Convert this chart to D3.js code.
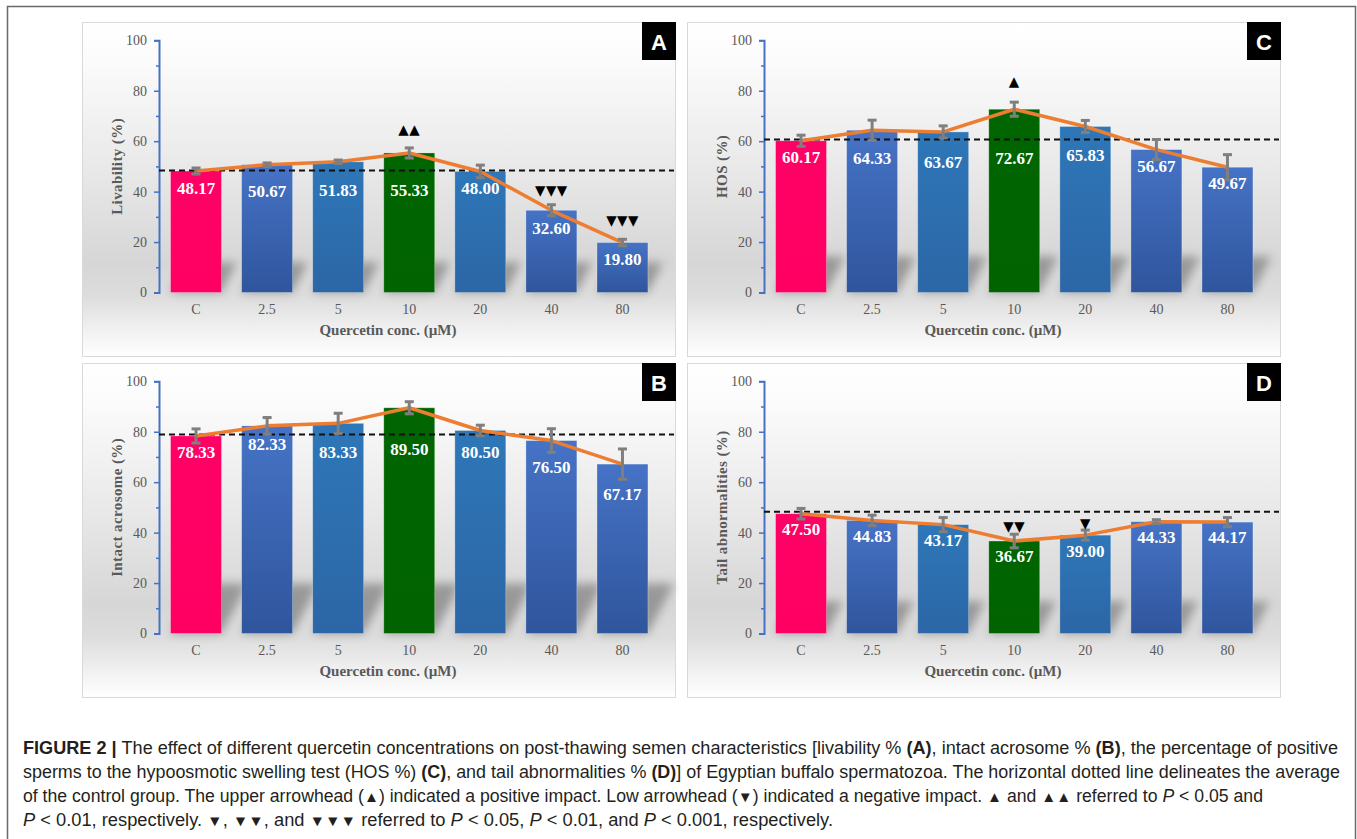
<!DOCTYPE html>
<html>
<head>
<meta charset="utf-8">
<script src="https://cdn.jsdelivr.net/npm/d3@7"></script>
<style>
  html, body { margin: 0; padding: 0; background: #ffffff; }
  svg { display: block; }
</style>
</head>
<body>
<div id="chart"></div>
<script>
// ---------------- DATA ----------------
const categories = ["C", "2.5", "5", "10", "20", "40", "80"];
const yTicks = [0, 20, 40, 60, 80, 100];
const xTitle = "Quercetin conc. (µM)";

// Panel A: Livability
const livability   = [48.17, 50.67, 51.83, 55.33, 48.00, 32.60, 19.80];
const livErr       = [1.2, 0.7, 0.7, 2.0, 2.5, 2.2, 1.3];
const livRef       = 48.4;
const livLabelAt   = [41.6, 40.3, 40.8, 40.8, 41.5, 25.7, 13.2];
const livSig       = ["", "", "", "▲▲", "", "▼▼▼", "▼▼▼"];
const livSigAt     = [null, null, null, 64.7, null, 40.6, 28.6];

// Panel B: Intact acrosome
const acrosome     = [78.33, 82.33, 83.33, 89.50, 80.50, 76.50, 67.17];
const acrErr       = [2.8, 3.3, 4.0, 2.4, 2.1, 4.7, 6.0];
const acrRef       = 78.9;
const acrLabelAt   = [72.1, 75.1, 72.1, 73.0, 71.8, 65.9, 55.3];
const acrSig       = ["", "", "", "", "", "", ""];
const acrSigAt     = [null, null, null, null, null, null, null];

// Panel C: HOS
const hos          = [60.17, 64.33, 63.67, 72.67, 65.83, 56.67, 49.67];
const hosErr       = [2.2, 4.0, 2.4, 2.8, 2.4, 4.0, 5.0];
const hosRef       = 60.7;
const hosLabelAt   = [53.8, 53.2, 51.8, 53.4, 54.5, 50.2, 43.5];
const hosSig       = ["", "", "", "▲", "", "", ""];
const hosSigAt     = [null, null, null, 83.6, null, null, null];

// Panel D: Tail abnormalities
const tail         = [47.50, 44.83, 43.17, 36.67, 39.00, 44.33, 44.17];
const tailErr      = [2.1, 2.1, 2.8, 2.7, 2.0, 0.8, 1.8];
const tailRef      = 48.3;
const tailLabelAt  = [41.4, 38.7, 36.9, 30.6, 32.8, 38.3, 38.1];
const tailSig      = ["", "", "", "▼▼", "▼", "", ""];
const tailSigAt    = [null, null, null, 42.4, 43.7, null, null];

const captionLines = [
  [["b","FIGURE 2 | "],["n","The effect of different quercetin concentrations on post-thawing semen characteristics [livability % "],["b","(A)"],["n",", intact acrosome % "],["b","(B)"],["n",", the percentage of positive"]],
  [["n","sperms to the hypoosmotic swelling test (HOS %) "],["b","(C)"],["n",", and tail abnormalities % "],["b","(D)"],["n","] of Egyptian buffalo spermatozoa. The horizontal dotted line delineates the average"]],
  [["n","of the control group. The upper arrowhead ("],["t","▲"],["n",") indicated a positive impact. Low arrowhead ("],["t","▼"],["n",") indicated a negative impact. "],["t","▲"],["n"," and "],["t","▲▲"],["n"," referred to "],["i","P"],["n"," < 0.05 and"]],
  [["i","P"],["n"," < 0.01, respectively. "],["t","▼"],["n",", "],["t","▼▼"],["n",", and "],["t","▼▼▼"],["n"," referred to "],["i","P"],["n"," < 0.05, "],["i","P"],["n"," < 0.01, and "],["i","P"],["n"," < 0.001, respectively."]]
];

// ---------------- LAYOUT / STYLE ----------------
const W = 1357, H = 839;
const PW = 594, PH = 335;
const serif = "'Liberation Serif', 'Times New Roman', serif";
const sans = "'Liberation Sans', Arial, Helvetica, sans-serif";
const textGray = "#595959";
const barStyle = ["pink", "blueA", "blueB", "green", "blueB", "blueA", "blueA"];

const panels = [
  { key: "A", x: 82,  y: 22,  title: "Livability (%)",          v: livability, e: livErr,  ref: livRef,  lab: livLabelAt,  sig: livSig,  sigAt: livSigAt,  sh: {h: 30, dx: 15} },
  { key: "B", x: 82,  y: 363, title: "Intact acrosome (%)",     v: acrosome,   e: acrErr,  ref: acrRef,  lab: acrLabelAt,  sig: acrSig,  sigAt: acrSigAt,  sh: {h: 50, dx: 26} },
  { key: "C", x: 687, y: 22,  title: "HOS (%)",                 v: hos,        e: hosErr,  ref: hosRef,  lab: hosLabelAt,  sig: hosSig,  sigAt: hosSigAt,  sh: {h: 36, dx: 18} },
  { key: "D", x: 687, y: 363, title: "Tail abnormalities (%)",  v: tail,       e: tailErr, ref: tailRef, lab: tailLabelAt, sig: tailSig, sigAt: tailSigAt, sh: {h: 32, dx: 16} }
];

const svg = d3.select("#chart").append("svg").attr("width", W).attr("height", H);
const defs = svg.append("defs");

// background gradient
const bg = defs.append("linearGradient").attr("id", "panelBg").attr("x1", 0).attr("y1", 0).attr("x2", 0).attr("y2", 1);
[[0, "#ffffff"], [0.12, "#fbfbfb"], [0.45, "#e8e8e8"], [0.72, "#d6d6d6"], [0.82, "#dddddd"], [0.92, "#f1f1f1"], [1, "#ffffff"]]
  .forEach(([o, c]) => bg.append("stop").attr("offset", o).attr("stop-color", c));

function grad(id, top, bottom) {
  const g = defs.append("linearGradient").attr("id", id).attr("x1", 0).attr("y1", 0).attr("x2", 0).attr("y2", 1);
  g.append("stop").attr("offset", 0).attr("stop-color", top);
  g.append("stop").attr("offset", 1).attr("stop-color", bottom);
}
grad("pink", "#ff0066", "#ff0062");
grad("green", "#006600", "#006300");
grad("blueA", "#4673c6", "#2f559c");
grad("blueB", "#2e77b8", "#2c66a6");

const blur = defs.append("filter").attr("id", "shBlur").attr("x", "-50%").attr("y", "-50%").attr("width", "200%").attr("height", "200%");
blur.append("feGaussianBlur").attr("stdDeviation", 5);

// outer frame
svg.append("path")
  .attr("d", `M7.5,${H + 5} V6.5 H1355.5 V${H + 5}`)
  .attr("fill", "none").attr("stroke", "#6a6a6a").attr("stroke-width", 1.5);

panels.forEach(p => {
  const g = svg.append("g").attr("transform", `translate(${p.x},${p.y})`);
  g.append("rect").attr("x", 0.5).attr("y", 0.5).attr("width", PW - 1).attr("height", PH - 1)
    .attr("fill", "url(#panelBg)").attr("stroke", "#d9d9d9").attr("stroke-width", 1);

  const x = d3.scaleBand().domain(categories).range([78.5, 576]).paddingInner(0.283).paddingOuter(0.1415);
  const y = d3.scaleLinear().domain([0, 100]).range([270.5, 18.3]);
  const bw = x.bandwidth();
  const cx = (d, i) => x(categories[i]) + bw / 2;

  // shadows
  const sg = g.append("g").attr("filter", "url(#shBlur)").attr("opacity", 0.6);
  p.v.forEach((d, i) => {
    const x0 = x(categories[i]), x1 = x0 + bw, y0 = y(0);
    const h = Math.min(p.sh.h, y0 - y(d));
    sg.append("path")
      .attr("d", `M${x0},${y0} L${x1},${y0} L${x1 + p.sh.dx},${y0 - h} L${x0 + p.sh.dx},${y0 - h} Z`)
      .attr("fill", "#6e6e6e");
  });

  // bars
  g.append("g").selectAll("rect").data(p.v).join("rect")
    .attr("x", (d, i) => x(categories[i]))
    .attr("y", d => y(d))
    .attr("width", bw)
    .attr("height", d => y(0) - y(d))
    .attr("fill", (d, i) => `url(#${barStyle[i]})`)
    .attr("stroke", "rgba(255,255,255,0.35)").attr("stroke-width", 0.8);

  // y axis
  const yAxis = d3.axisLeft(y).tickValues(yTicks).tickSize(5).tickSizeOuter(5).tickPadding(7);
  const ya = g.append("g").attr("transform", "translate(77,0)").call(yAxis);
  ya.select(".domain").attr("stroke", "#4472c4").attr("stroke-width", 2);
  ya.selectAll(".tick line").attr("stroke", "#4472c4").attr("stroke-width", 1.5);
  ya.selectAll(".tick text").attr("fill", textGray).attr("font-family", serif).attr("font-size", 14);
  const minor = d3.axisLeft(y).tickValues([10, 30, 50, 70, 90]).tickSize(3).tickFormat("");
  const ym = g.append("g").attr("transform", "translate(77,0)").call(minor);
  ym.select(".domain").remove();
  ym.selectAll(".tick line").attr("stroke", "#4472c4").attr("stroke-width", 1.5);

  // x axis (labels only)
  const xa = g.append("g").attr("transform", `translate(0,${y(0)})`)
    .call(d3.axisBottom(x).tickSize(0).tickPadding(12));
  xa.select(".domain").remove();
  xa.selectAll(".tick text").attr("fill", textGray).attr("font-family", serif).attr("font-size", 14);

  // titles
  g.append("text").attr("x", 306).attr("y", 313)
    .attr("text-anchor", "middle").attr("fill", textGray)
    .attr("font-family", serif).attr("font-size", 15).attr("font-weight", "bold").text(xTitle);
  g.append("text")
    .attr("transform", `translate(40,${(y(0) + y(100)) / 2}) rotate(-90)`)
    .attr("text-anchor", "middle").attr("fill", textGray)
    .attr("font-family", serif).attr("font-size", 15).attr("letter-spacing", 0.4)
    .attr("font-weight", "bold").text(p.title);

  // reference dashed line
  g.append("line").attr("x1", 77).attr("x2", PW - 2).attr("y1", y(p.ref)).attr("y2", y(p.ref))
    .attr("stroke", "#111").attr("stroke-width", 2).attr("stroke-dasharray", "6,4");

  // orange line
  g.append("path").datum(p.v)
    .attr("d", d3.line().x((d, i) => cx(d, i)).y(d => y(d)))
    .attr("fill", "none").attr("stroke", "#ed7d31").attr("stroke-width", 3.5)
    .attr("stroke-linejoin", "round").attr("stroke-linecap", "round");

  // error bars
  const eg = g.append("g").attr("stroke", "#7f7f7f").attr("stroke-width", 3).attr("fill", "none");
  p.v.forEach((d, i) => {
    const c = cx(d, i), lo = y(d - p.e[i]), hi = y(d + p.e[i]);
    eg.append("line").attr("x1", c).attr("x2", c).attr("y1", lo).attr("y2", hi);
    eg.append("line").attr("x1", c - 4.5).attr("x2", c + 4.5).attr("y1", lo).attr("y2", lo);
    eg.append("line").attr("x1", c - 4.5).attr("x2", c + 4.5).attr("y1", hi).attr("y2", hi);
  });

  // value labels
  g.append("g").selectAll("text").data(p.v).join("text")
    .attr("x", (d, i) => cx(d, i))
    .attr("y", (d, i) => y(p.lab[i]))
    .attr("dy", "0.35em")
    .attr("text-anchor", "middle").attr("fill", "#ffffff")
    .attr("font-family", serif).attr("font-size", 17).attr("font-weight", "bold")
    .text(d => d.toFixed(2));

  // significance markers
  p.sig.forEach((s, i) => {
    if (!s) return;
    g.append("text").attr("x", cx(0, i)).attr("y", y(p.sigAt[i])).attr("dy", "0.35em")
      .attr("text-anchor", "middle").attr("fill", "#000")
      .attr("font-family", "'DejaVu Sans', sans-serif").attr("font-size", 13.5)
      .attr("letter-spacing", 0.5).text(s);
  });

  // panel letter box
  g.append("rect").attr("x", PW - 34).attr("y", 0).attr("width", 34).attr("height", 38).attr("fill", "#000");
  g.append("text").attr("x", PW - 17).attr("y", 27.5).attr("text-anchor", "middle")
    .attr("fill", "#fff").attr("font-family", sans).attr("font-weight", "bold").attr("font-size", 22).text(p.key);
});

// caption
const capBase = [754, 778, 802, 826];
const capWidth = [1315, 1317, 1240, 810];
captionLines.forEach((line, li) => {
  const t = svg.append("text").attr("x", 23).attr("y", capBase[li])
    .attr("font-family", sans).attr("font-size", 17.5).attr("fill", "#231f20")
    .attr("textLength", capWidth[li]).attr("lengthAdjust", "spacingAndGlyphs")
    .attr("xml:space", "preserve");
  line.forEach(([st, s]) => {
    const ts = t.append("tspan").text(s);
    if (st === "b") ts.attr("font-weight", "bold");
    if (st === "i") ts.attr("font-style", "italic");
    if (st === "t") ts.attr("font-size", 15);
  });
});
</script>
</body>
</html>
